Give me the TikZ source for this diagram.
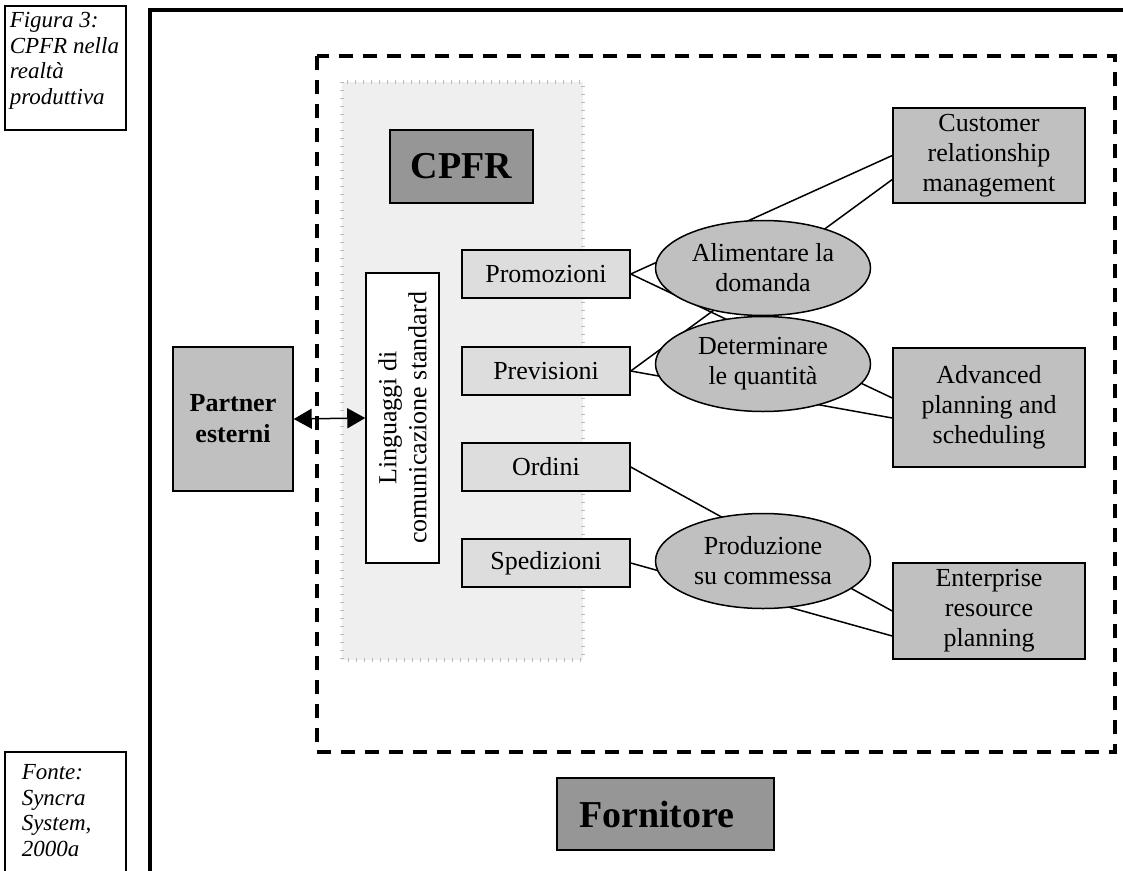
\documentclass[tikz,border=0pt]{standalone}
\usepackage{fontspec}
\setmainfont{Liberation Serif}
\usetikzlibrary{arrows.meta,shapes.geometric}

\definecolor{boxgray}{HTML}{C0C0C0}
\definecolor{titlegray}{HTML}{969696}
\definecolor{lightbox}{HTML}{DDDDDD}
\definecolor{panelgray}{HTML}{EFEFEF}

\begin{document}
\begin{tikzpicture}[x=1pt,y=-1pt,
    every node/.style={font=\fontsize{26}{30}\selectfont, line width=1.5pt},
    flowbox/.style={draw, fill=lightbox, minimum width=168pt, minimum height=48pt, inner sep=0pt},
    sysbox/.style={draw, fill=boxgray, align=center, minimum width=192pt, inner sep=0pt},
    goal/.style={draw, ellipse, fill=boxgray, align=center, minimum width=215pt, minimum height=95pt, inner sep=0pt},
    titlebox/.style={draw, fill=titlegray, font=\fontsize{38}{44}\selectfont\bfseries, inner sep=0pt},
    capnote/.style={font=\fontsize{23}{25.5}\selectfont\itshape, align=left, inner sep=0pt},
    link/.style={line width=1.5pt}]
    \useasboundingbox (0,0) rectangle (1123,870);

    % captions
    \draw[line width=1.2pt] (5,6) rectangle (126,130);
    \node[capnote, anchor=north west] (fig) at (9,12) {Figura 3:\\CPFR nella\\realtà\\produttiva};
    \draw[line width=1.2pt] (5,880) -- (5,752) -- (126,752) -- (126,880);
    \node[capnote, anchor=north west] (src) at (21,764) {Fonte:\\Syncra\\System,\\2000a};

    % frame and supplier area
    \draw[line width=4pt] (150,880) -- (150,10) -- (1130,10);
    \draw[line width=3.5pt, dash pattern=on 14pt off 10pt] (317,56) rectangle (1115,752);
    \fill[panelgray] (342,82) rectangle (583,660);
    \draw[gray!55, line width=4pt, dash pattern=on 0.8pt off 7.2pt] (342,82) rectangle (583,660);

    \node[titlebox, minimum width=143pt, minimum height=73pt] (cpfr) at (461.5,166.5) {CPFR};
    \node[titlebox, minimum width=217pt, minimum height=72pt] (forn) at (665.5,814)
        {\makebox[217pt][l]{\hspace{22pt}Fornitore}};
    \node[draw, fill=boxgray, align=center, font=\fontsize{26}{31}\selectfont\bfseries,
          minimum width=120pt, minimum height=144pt, inner sep=0pt] (partner) at (233,419) {Partner\\esterni};
    \node[draw, fill=white, rotate=90, align=center, minimum width=290pt, minimum height=73pt,
          inner sep=0pt] (ling) at (402.5,418) {Linguaggi di\\comunicazione standard};
    \draw[link, {Triangle[length=18pt,width=20pt]}-{Triangle[length=18pt,width=20pt]}] (partner.east) -- (ling.north);

    % processes
    \node[flowbox] (promo) at (546,274) {Promozioni};
    \node[flowbox] (prev) at (546,371) {Previsioni};
    \node[flowbox] (ord) at (546,467) {Ordini};
    \node[flowbox] (sped) at (546,563) {Spedizioni};

    \node[sysbox, minimum height=95pt] (crm) at (989,155.5) {Customer\\relationship\\management};
    \node[sysbox, minimum height=119pt] (aps) at (989,407.5) {Advanced\\planning and\\scheduling};
    \node[sysbox, minimum height=96pt] (erp) at (989,611) {Enterprise\\resource\\planning};

    \draw[link] (promo.east) -- (crm.west);
    \draw[link] (prev.east) -- ([yshift=-24pt]crm.west);
    \draw[link] (promo.east) -- ([yshift=9.5pt]aps.west);
    \draw[link] (prev.east) -- ([yshift=-10.5pt]aps.west);
    \draw[link] (ord.east) -- (erp.west);
    \draw[link] (sped.east) -- ([yshift=-25pt]erp.west);

    % goals over the links
    \node[goal] (alim) at (763,268) {Alimentare la\\domanda};
    \node[goal] (det) at (763,364) {Determinare\\le quantità};
    \node[goal] (prod) at (763,561) {Produzione\\su commessa};

\end{tikzpicture}
\end{document}
